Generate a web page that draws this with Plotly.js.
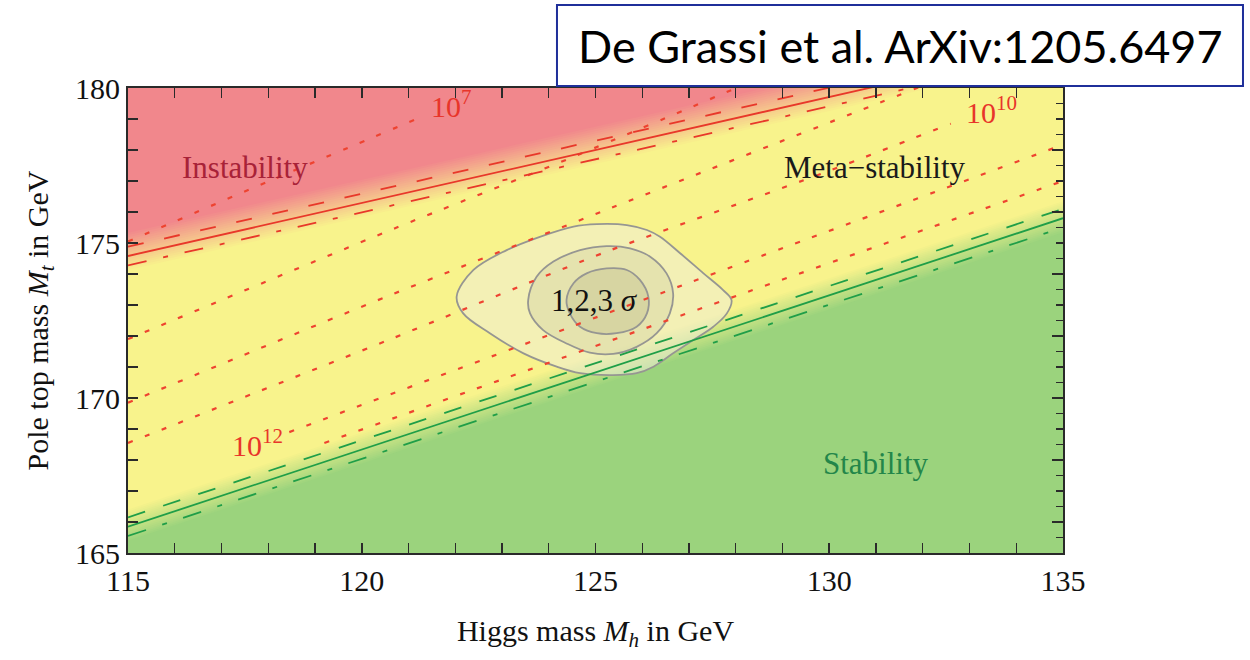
<!DOCTYPE html>
<html><head><meta charset="utf-8">
<script src="https://cdn.plot.ly/plotly-3.0.1.min.js"></script>
<style>html,body{margin:0;padding:0;background:#fff;}#chart{width:1250px;height:660px;}</style>
</head><body><div id="chart"></div>
<script>
// ---------------- data (Higgs mass Mh, top mass Mt in GeV) ----------------
const xTicks = [115, 120, 125, 130, 135];
const yTicks = [165, 170, 175, 180];

// stability / instability boundaries (solid) with their error bands (dashed, dash-dot)
const boundaryMh = [115, 135];
const instabilityMt = [174.58, 181.42];
const instabilityUpperMt = [174.88, 181.72];
const instabilityLowerMt = [174.28, 181.12];
const stabilityMt = [165.85, 175.80];
const stabilityUpperMt = [166.15, 176.10];
const stabilityLowerMt = [165.55, 175.50];

// instability-scale contours (dotted)
const lambda7Mh = [115, 118.07, 121.25];
const lambda7Mt = [175.05, 177.03, 179.05];
const lambda8Mh = [115, 120.7, 124.4, 128.4];
const lambda8Mt = [171.9, 175.47, 177.7, 180.25];
const lambda9Mh = [115, 120.53, 125.13, 130.87, 132.3];
const lambda9Mt = [169.85, 173.27, 176.01, 179.4, 180.25];
const lambda10Mh = [115, 120.57, 125.2, 129.86, 132.6];
const lambda10Mt = [168.55, 171.87, 174.7, 177.25, 178.85];
const lambda11Mh = [118.45, 127.06, 135];
const lambda11Mt = [168.9, 173.75, 178.17];
const lambda12Mh = [119.2, 128.06, 135];
const lambda12Mt = [168.55, 173.32, 177.0];

// 1, 2, 3 sigma experimental contours
const sigma3Mh = [122.03,122.39,123.10,123.81,124.53,125.03,125.67,126.10,126.38,126.81,127.31,127.73,127.91,127.81,127.52,127.09,126.66,126.24,125.88,125.38,124.67,124.17,123.46,122.74,122.17];
const sigma3Mt = [173.27,174.13,174.77,175.20,175.53,175.61,175.58,175.42,175.20,174.67,174.02,173.48,173.16,172.73,172.30,171.87,171.44,171.01,170.80,170.74,170.80,171.01,171.44,172.09,172.73];
const sigma2Mh = [123.56,123.74,124.10,124.67,125.24,125.74,126.17,126.52,126.66,126.59,126.31,125.88,125.38,124.88,124.38,123.88,123.60];
const sigma2Mt = [173.16,173.91,174.40,174.77,174.90,174.83,174.56,174.02,173.38,172.73,172.09,171.65,171.42,171.46,171.76,172.19,172.73];
const sigma1Mh = [124.38,124.53,124.81,125.24,125.67,125.95,126.13,126.10,125.88,125.45,125.03,124.67,124.45];
const sigma1Mt = [173.16,173.70,174.02,174.18,174.13,173.81,173.27,172.73,172.30,172.09,172.09,172.30,172.73];

// ---------------- styling ----------------
const YELLOW = [248, 243, 140], RED = [241, 135, 140], GREEN = [155, 211, 125];
const SERIF = 'Liberation Serif, Times New Roman, serif';
const DOT_RED = '#ee4330', LINE_RED = '#e8382a', LINE_GREEN = '#1f9e48';
const AXIS = '#2a2a2a';

function mix(c1, c2, t) {
  return 'rgb(' + c1.map((v, i) => Math.round(v + (c2[i] - v) * t)).join(',') + ')';
}
function close(a) { return a.concat([a[0]]); }

// soft-edged colour regions built from the boundary lines
function softRegion(mt, lo, hi, n, col, above) {
  const out = [];
  for (let i = 0; i < n; i++) {
    const off = above ? lo + (hi - lo) * i / (n - 1) : hi - (hi - lo) * i / (n - 1);
    const edge = above ? 200 : 140;
    out.push({
      type: 'scatter', mode: 'none', hoverinfo: 'skip',
      x: [boundaryMh[0], boundaryMh[1], boundaryMh[1], boundaryMh[0]],
      y: [mt[0] + off, mt[1] + off, edge, edge],
      fill: 'toself', fillcolor: mix(YELLOW, col, (i + 1) / n)
    });
  }
  return out;
}

const traces = [];
traces.push(...softRegion(instabilityMt, -0.45, 0.75, 18, RED, true));
traces.push(...softRegion(stabilityMt, -0.45, 0.55, 18, GREEN, false));

function contour(mh, mt, fill) {
  return {type: 'scatter', mode: 'lines', hoverinfo: 'skip', x: close(mh), y: close(mt),
    fill: 'toself', fillcolor: fill, line: {color: 'rgb(150,150,146)', width: 1.8, shape: 'spline', smoothing: 1}};
}
traces.push(contour(sigma3Mh, sigma3Mt, 'rgba(238,236,215,0.55)'));
traces.push(contour(sigma2Mh, sigma2Mt, 'rgba(200,198,160,0.30)'));
traces.push(contour(sigma1Mh, sigma1Mt, 'rgba(190,186,140,0.35)'));

function dotted(mh, mt) {
  return {type: 'scatter', mode: 'lines', hoverinfo: 'skip', x: mh, y: mt,
    line: {color: DOT_RED, width: 2.2, dash: '5px,13px', shape: 'spline', smoothing: 0.6}};
}
[[lambda7Mh, lambda7Mt], [lambda8Mh, lambda8Mt], [lambda9Mh, lambda9Mt], [lambda10Mh, lambda10Mt],
 [lambda11Mh, lambda11Mt], [lambda12Mh, lambda12Mt]].forEach(p => traces.push(dotted(p[0], p[1])));

function bline(mt, color, dash, yaxis) {
  return {type: 'scatter', mode: 'lines', hoverinfo: 'skip', x: boundaryMh, y: mt, yaxis: yaxis || 'y',
    line: {color: color, width: 1.8, dash: dash}};
}
traces.push(bline(instabilityUpperMt, LINE_RED, '16px,21px'));
traces.push(bline(instabilityMt, LINE_RED, 'solid'));
traces.push(bline(instabilityLowerMt, LINE_RED, '19px,17px,5px,17px'));
traces.push(bline(stabilityUpperMt, LINE_GREEN, '18px,19px'));
traces.push(bline(stabilityMt, LINE_GREEN, 'solid', 'y2'));
traces.push(bline(stabilityLowerMt, LINE_GREEN, '19px,17px,5px,17px'));

const ann = (x, y, text, size, color) => ({x: x, y: y, xref: 'x', yref: 'y', text: text, showarrow: false,
  font: {family: SERIF, size: size, color: color}, xanchor: 'center', yanchor: 'middle'});

const layout = {
  width: 1250, height: 660,
  margin: {l: 128, r: 187, t: 88, b: 107},
  paper_bgcolor: '#ffffff', plot_bgcolor: mix(YELLOW, YELLOW, 0),
  showlegend: false,
  xaxis: {
    range: [115, 135], tickvals: xTicks, ticks: 'inside', ticklen: 10, tickwidth: 1.6, tickcolor: AXIS,
    minor: {dtick: 1, tick0: 115, ticks: 'inside', ticklen: 6, tickwidth: 1.4, tickcolor: AXIS, showgrid: false},
    showline: true, linecolor: AXIS, linewidth: 2, mirror: 'allticks', showgrid: false, zeroline: false,
    tickfont: {family: SERIF, size: 30, color: '#111'},
    title: {text: 'Higgs mass <i>M<sub>h</sub></i> in GeV', font: {family: SERIF, size: 30, color: '#111'}, standoff: 24}
  },
  yaxis: {
    range: [165, 180], tickvals: yTicks, ticks: 'inside', ticklen: 10, tickwidth: 1.6, tickcolor: AXIS,
    minor: {dtick: 1, tick0: 165, ticks: 'inside', ticklen: 10, tickwidth: 1.4, tickcolor: AXIS, showgrid: false},
    showline: true, linecolor: AXIS, linewidth: 2, mirror: false, showgrid: false, zeroline: false,
    tickfont: {family: SERIF, size: 30, color: '#111'},
    title: {text: 'Pole top mass <i>M<sub>t</sub></i> in GeV', font: {family: SERIF, size: 30, color: '#111'}, standoff: 18}
  },
  yaxis2: {
    overlaying: 'y', side: 'right', range: [165, 180], tick0: 164, dtick: 2, ticks: 'inside', ticklen: 11,
    tickwidth: 1.6, tickcolor: AXIS, showticklabels: false,
    minor: {dtick: 0.5, tick0: 165, ticks: 'inside', ticklen: 7, tickwidth: 1.4, tickcolor: AXIS, showgrid: false},
    showline: true, linecolor: AXIS, linewidth: 2, showgrid: false, zeroline: false
  },
  shapes: [{type: 'rect', xref: 'paper', yref: 'paper', x0: 0.4588, x1: 1.1925, y0: 1.0043, y1: 1.1785,
    line: {color: '#1f2f9a', width: 2}, fillcolor: '#ffffff', layer: 'above'}],
  annotations: [
    {xref: 'paper', yref: 'paper', x: 0.8257, y: 1.0903, text: 'De Grassi et al. ArXiv:1205.6497', showarrow: false,
     font: {family: 'Lato, Open Sans, sans-serif', size: 45, color: '#000'}, xanchor: 'center', yanchor: 'middle'},
    ann(117.5, 177.45, 'Instability', 31, '#a82238'),
    ann(130.98, 177.45, 'Meta\u2212stability', 31, '#1a1a1a'),
    ann(131.0, 167.9, 'Stability', 31, '#23864a'),
    ann(124.97, 173.16, '1,2,3 <i>σ</i>', 31, '#111'),
    ann(121.93, 179.48, '10<sup>7</sup>', 30, '#e8352a'),
    ann(133.46, 179.29, '10<sup>10</sup>', 30, '#e8352a'),
    ann(117.76, 168.55, '10<sup>12</sup>', 30, '#e8352a')
  ]
};

Plotly.newPlot('chart', traces, layout, {staticPlot: true, displayModeBar: false});
</script></body></html>
